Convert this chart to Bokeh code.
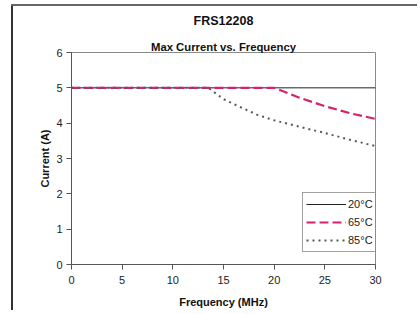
from bokeh.plotting import figure
from bokeh.models import Range1d, Legend, LegendItem, FixedTicker, Title
from bokeh.embed import file_html
from bokeh.resources import INLINE

# Data
freq_20 = [0, 30]
cur_20 = [5, 5]

freq_65 = [0, 20, 22.5, 25, 27.5, 30]
cur_65 = [5, 5, 4.72, 4.48, 4.28, 4.12]

freq_85 = [0, 13.5, 15, 16.7, 18.3, 20, 22.5, 25, 27.5, 30]
cur_85 = [5, 5, 4.68, 4.45, 4.24, 4.08, 3.9, 3.72, 3.53, 3.35]

x_ticks = [0, 5, 10, 15, 20, 25, 30]
y_ticks = [0, 1, 2, 3, 4, 5, 6]

title_main = "FRS12208"
title_sub = "Max Current vs. Frequency"
labels = ["20°C", "65°C", "85°C"]

FONT = "Liberation Sans"

p = figure(width=406, height=310, output_backend="svg", toolbar_location=None,
           x_range=Range1d(0, 30), y_range=Range1d(0, 6), title=None,
           min_border_left=60, min_border_right=42, min_border_top=52, min_border_bottom=40)
p.border_fill_color = None
p.styles = {
    "margin-left": "11px",
    "background-image": "linear-gradient(#666666, #666666), linear-gradient(#333333, #333333)",
    "background-size": "100% 2px, 2px 100%",
    "background-position": "0px 4px, 0px 4px",
    "background-repeat": "no-repeat",
}

p.xgrid.visible = False
p.ygrid.visible = False
p.outline_line_color = "#8a8a8a"
p.outline_line_width = 1

for ax in (p.xaxis[0], p.yaxis[0]):
    ax.axis_line_color = "#555555"
    ax.major_tick_line_color = "#555555"
    ax.minor_tick_line_color = None
    ax.major_tick_in = 0
    ax.major_tick_out = 5
    ax.major_label_text_font = FONT
    ax.major_label_text_font_size = "11px"
    ax.major_label_text_color = "#222222"
    ax.axis_label_text_font = FONT
    ax.axis_label_text_font_size = "11px"
    ax.axis_label_text_font_style = "bold"
    ax.axis_label_text_color = "#111111"

p.xaxis.ticker = FixedTicker(ticks=x_ticks)
p.yaxis.ticker = FixedTicker(ticks=y_ticks)
p.xaxis.axis_label = "Frequency (MHz)"
p.yaxis.axis_label = "Current (A)"
p.xaxis.major_label_standoff = 6
p.yaxis.major_label_standoff = 4
p.xaxis.axis_label_standoff = 9
p.yaxis.axis_label_standoff = 2

r20 = p.line(freq_20, cur_20, line_color="#222222", line_width=1)
r65 = p.line(freq_65, cur_65, line_color="#d6226e", line_width=2.2, line_dash="9 4")
r85 = p.line(freq_85, cur_85, line_color="#4d5c5a", line_width=2, line_dash="2 4")

legend = Legend(items=[LegendItem(label=labels[0], renderers=[r20]),
                       LegendItem(label=labels[1], renderers=[r65]),
                       LegendItem(label=labels[2], renderers=[r85])],
                location=(231, 12), padding=3, spacing=2, margin=0,
                glyph_width=40, glyph_height=16, label_height=16, label_standoff=2,
                label_text_font=FONT, label_text_font_size="11px", label_text_color="#222222",
                border_line_color="#444444", border_line_width=1,
                background_fill_color="white", background_fill_alpha=1)
p.add_layout(legend, "center")

p.add_layout(Title(text=title_sub, text_font=FONT, text_font_size="11.3px",
                   text_font_style="bold", align="center", standoff=0,
                   text_color="#111111"), "above")
p.add_layout(Title(text=title_main, text_font=FONT, text_font_size="12.5px",
                   text_font_style="bold", align="center", standoff=22,
                   text_color="#111111"), "above")

open("out.html", "w").write(file_html(p, INLINE))
